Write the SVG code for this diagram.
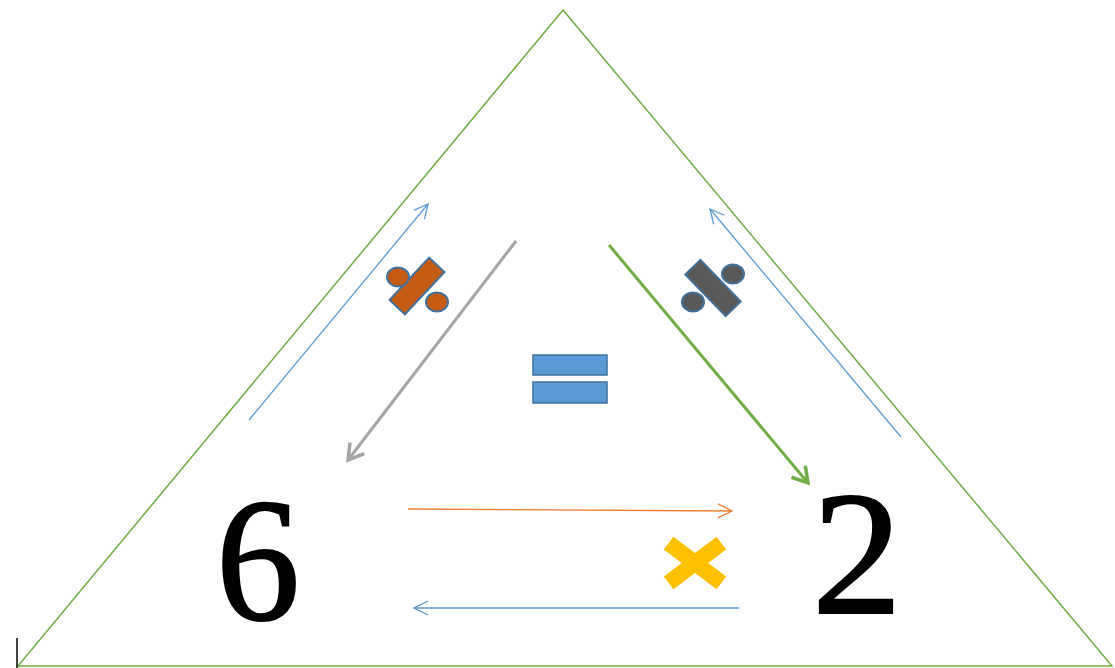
<svg xmlns="http://www.w3.org/2000/svg" width="1115" height="668" viewBox="0 0 1115 668">
<style>
.thin{fill:none;stroke-width:1.3}
.thick{fill:none;stroke-width:3}
.num{font-family:"Liberation Serif",serif;font-size:176px;fill:#000;stroke:#000;stroke-width:2;text-anchor:middle}
.div1{fill:#C55A11;stroke:#41719C;stroke-width:2}
.div2{fill:#595959;stroke:#41719C;stroke-width:2}
.eq{fill:#5B9BD5;stroke:#41719C;stroke-width:1.5}
</style>
<defs>
<marker id="aBlue" markerUnits="userSpaceOnUse" markerWidth="20" markerHeight="20" refX="16" refY="8" orient="auto" viewBox="0 0 20 16"><path d="M2,1 L16,8 L2,15" fill="none" stroke="#5B9BD5" stroke-width="1.3"/></marker>
<marker id="aOrange" markerUnits="userSpaceOnUse" markerWidth="20" markerHeight="20" refX="16" refY="8" orient="auto" viewBox="0 0 20 16"><path d="M2,1 L16,8 L2,15" fill="none" stroke="#ED7D31" stroke-width="1.3"/></marker>
<marker id="aGray" markerUnits="userSpaceOnUse" markerWidth="24" markerHeight="24" refX="18" refY="10" orient="auto" viewBox="0 0 24 20"><path d="M3,1 L18,10 L3,19" fill="none" stroke="#A5A5A5" stroke-width="3.5"/></marker>
<marker id="aGreen" markerUnits="userSpaceOnUse" markerWidth="24" markerHeight="24" refX="18" refY="10" orient="auto" viewBox="0 0 24 20"><path d="M3,1 L18,10 L3,19" fill="none" stroke="#70AD47" stroke-width="3.5"/></marker>
</defs>
<rect width="1115" height="668" fill="#fff"/>
<g id="triangle">
<polygon points="563,10 18,666 1112,666" fill="none" stroke="#70AD47" stroke-width="1.5"/>
<line x1="17" y1="638" x2="17" y2="668" stroke="#000" stroke-width="1.5"/>
</g>
<g id="connectors">
<line class="thin" x1="249" y1="420" x2="428" y2="204" stroke="#5B9BD5" marker-end="url(#aBlue)"/>
<line class="thick" x1="516" y1="241" x2="348" y2="460" stroke="#A5A5A5" marker-end="url(#aGray)"/>
<line class="thick" x1="609" y1="245" x2="808" y2="483" stroke="#70AD47" marker-end="url(#aGreen)"/>
<line class="thin" x1="901" y1="437" x2="710" y2="209" stroke="#5B9BD5" marker-end="url(#aBlue)"/>
<line class="thin" x1="408" y1="509" x2="732" y2="511" stroke="#ED7D31" marker-end="url(#aOrange)"/>
<line class="thin" x1="739" y1="608" x2="414" y2="608" stroke="#5B9BD5" marker-end="url(#aBlue)"/>
</g>
<g id="num6"><text class="num" x="258" y="619" textLength="84" lengthAdjust="spacingAndGlyphs">6</text></g>
<g id="num2"><text class="num" x="857" y="613" textLength="90" lengthAdjust="spacingAndGlyphs">2</text></g>
<g id="divide-left">
<rect class="div1" x="-29" y="-10.5" width="58" height="21" transform="translate(417,286) rotate(-47)"/>
<ellipse class="div1" cx="398" cy="277" rx="11" ry="9.5"/>
<ellipse class="div1" cx="437" cy="302" rx="11" ry="9.5"/>
</g>
<g id="divide-right">
<rect class="div2" x="-29" y="-10.5" width="58" height="21" transform="translate(713,288) rotate(46)"/>
<ellipse class="div2" cx="733" cy="274" rx="11" ry="9.5"/>
<ellipse class="div2" cx="693" cy="302" rx="11" ry="9.5"/>
</g>
<g id="equals">
<rect class="eq" x="533" y="355" width="74" height="20"/>
<rect class="eq" x="533" y="382" width="74" height="21"/>
</g>
<g id="times">
<rect x="-33" y="-8" width="66" height="16" fill="#FFC000" transform="translate(695,563) rotate(37)"/>
<rect x="-33" y="-8" width="66" height="16" fill="#FFC000" transform="translate(695,563) rotate(-37)"/>
</g>
</svg>
